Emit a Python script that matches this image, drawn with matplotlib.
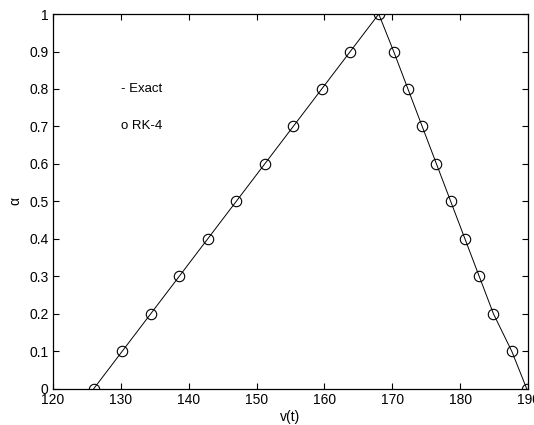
import matplotlib
matplotlib.use("Agg")
import matplotlib.pyplot as plt

# alpha levels and the two branches of the triangle
alpha_up = [0.0, 0.1, 0.2, 0.3, 0.4, 0.5, 0.6, 0.7, 0.8, 0.9, 1.0]
v_up = [126.0, 130.2, 134.4, 138.6, 142.8, 147.0, 151.2, 155.4, 159.6, 163.8, 168.0]
alpha_down = [1.0, 0.9, 0.8, 0.7, 0.6, 0.5, 0.4, 0.3, 0.2, 0.1, 0.0]
v_down = [168.0, 170.2, 172.3, 174.4, 176.5, 178.6, 180.7, 182.8, 184.9, 187.6, 189.8]

x_ticks = [120, 130, 140, 150, 160, 170, 180, 190]
y_ticks = [0, 0.1, 0.2, 0.3, 0.4, 0.5, 0.6, 0.7, 0.8, 0.9, 1]
y_labels = ["0", "0.1", "0.2", "0.3", "0.4", "0.5", "0.6", "0.7", "0.8", "0.9", "1"]

plt.rcParams['font.family'] = ['Liberation Sans', 'DejaVu Sans']
plt.rcParams['font.size'] = 10

fig = plt.figure(figsize=(5.34, 4.25), dpi=100)
ax = fig.add_axes([0.099, 0.085, 0.89, 0.882])

v = v_up + v_down[1:]
a = alpha_up + alpha_down[1:]

# exact solution line and RK-4 markers
ax.plot(v, a, '-', color='black', linewidth=0.7)
ax.plot(v, a, 'o', markerfacecolor='none', markeredgecolor='black',
        markersize=7.5, markeredgewidth=0.8)

ax.text(130, 0.8, '- Exact', va='center', ha='left', fontsize=9.5)
ax.text(130, 0.7, 'o RK-4', va='center', ha='left', fontsize=9.5)

ax.set_xlim(120, 190)
ax.set_ylim(0, 1)
ax.set_xticks(x_ticks)
ax.set_yticks(y_ticks)
ax.set_yticklabels(y_labels)
ax.tick_params(direction='in', top=True, right=True, length=4, width=0.8, pad=3)
for s in ax.spines.values():
    s.set_linewidth(0.9)

ax.set_xlabel('v(t)', labelpad=2)
ax.set_ylabel('α', labelpad=5)

fig.savefig('out.png', dpi=100)
